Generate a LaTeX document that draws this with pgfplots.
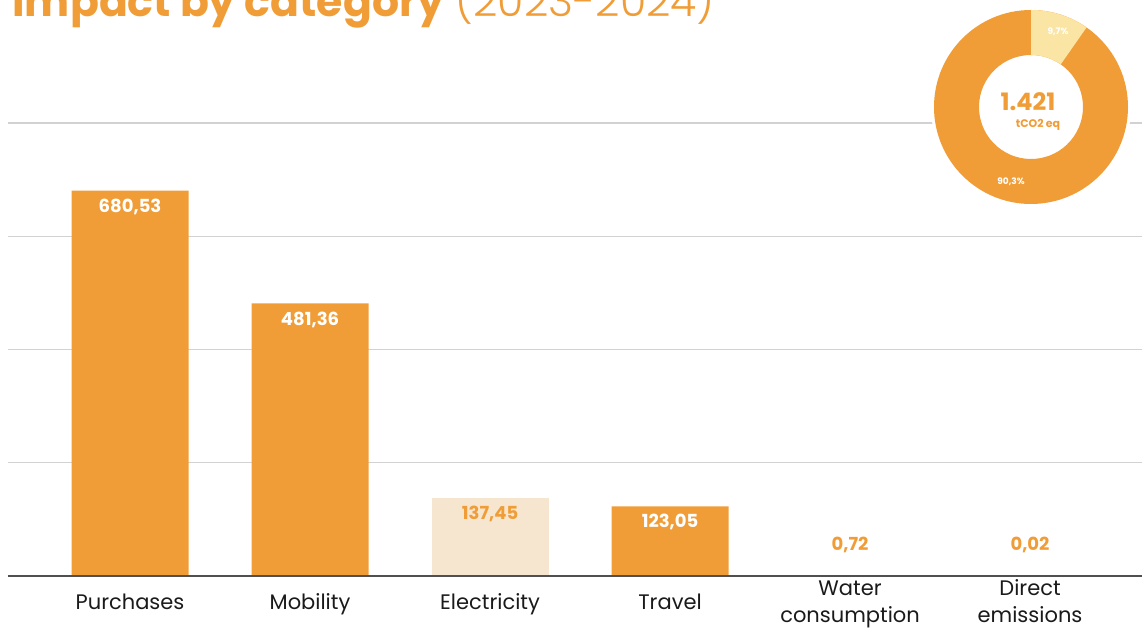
\documentclass[border=0pt]{standalone}
\usepackage{fontspec}
\setmainfont{Poppins}
\IfFontExistsTF{Poppins Light}
  {\newfontfamily\titlelight{Poppins Light}}
  {\newfontfamily\titlelight{Poppins}}
\usepackage{pgfplots}
\pgfplotsset{compat=1.18}

\definecolor{barorange}{HTML}{F09D37}
\definecolor{barpale}{HTML}{F6E6CF}
\definecolor{donutpale}{HTML}{FBE5A5}
\definecolor{gridgray}{HTML}{D2D2D2}
\definecolor{axisgray}{HTML}{505050}
\definecolor{labelblack}{HTML}{1A1A1A}

% donut shares (percent)
\def\shareSmall{9.7}
\def\shareBig{90.3}

\begin{document}
\begin{tikzpicture}
% page = 1142 x 632 px, 1 px = 0.5pt, axis origin at px (8,576)
\useasboundingbox (-4pt,-28pt) rectangle (567pt,288pt);

\begin{axis}[
    scale only axis,
    width=567pt, height=226.5pt,
    xmin=-0.678, xmax=5.622,
    ymin=0, ymax=800,
    axis line style={draw=none},
    ytick={200,400,600,800},
    yticklabels={},
    ymajorgrids,
    grid style={gridgray, line width=0.7pt},
    major tick length=0pt,
    xtick={0,1,2,3,4,5},
    xticklabels={{\strut Purchases},{\strut Mobility},{\strut Electricity},{\strut Travel},
        {\strut Water\\\strut consumption},{\strut Direct\\\strut emissions}},
    xticklabel style={anchor=center, yshift=-14pt, align=center, inner sep=0pt,
        font=\fontsize{10.5}{13.5}\selectfont, text=labelblack},
    ybar, bar width=58.5pt, bar shift=0pt,
    point meta=explicit symbolic,
    nodes near coords,
    clip=false,
]
\addplot[fill=barorange, draw=none,
    nodes near coords style={anchor=center, yshift=-8pt, text=white,
        font=\fontsize{9}{10}\bfseries}]
    coordinates {(0,680.53) [680,53] (1,481.36) [481,36] (3,123.05) [123,05]};
\addplot[fill=barpale, draw=none,
    nodes near coords style={anchor=center, yshift=-8pt, text=barorange,
        font=\fontsize{9}{10}\bfseries}]
    coordinates {(2,137.45) [137,45]};
\addplot[fill=barorange, draw=none,
    nodes near coords style={anchor=center, yshift=15.5pt, text=barorange,
        font=\fontsize{9}{10}\bfseries}]
    coordinates {(4,0.72) [0,72] (5,0.02) [0,02]};
\draw[axisgray, line width=0.8pt] (axis cs:-0.678,0) -- (axis cs:5.622,0);
\end{axis}

% title, partly cut by the top edge as in the source
\node[anchor=base west, inner sep=0pt, text=barorange, font=\fontsize{21.3}{24}\selectfont]
    at (2pt,279.5pt) {\textbf{Impact by category} {\titlelight(2023-2024)}};

% donut inset
\begin{scope}[shift={(511.5pt,234.5pt)}]
\pgfmathsetmacro{\angSplit}{90-360*\shareSmall/100}
\fill[white] (0,0) circle (50pt);
\fill[barorange] (90:48.5pt) arc[start angle=90, end angle=\angSplit-360, radius=48.5pt]
    -- (\angSplit:26pt) arc[start angle=\angSplit-360, end angle=90, radius=26pt] -- cycle;
\fill[donutpale] (90:48.5pt) arc[start angle=90, end angle=\angSplit, radius=48.5pt]
    -- (\angSplit:26pt) arc[start angle=\angSplit, end angle=90, radius=26pt] -- cycle;
\node[text=barorange, font=\fontsize{12}{13}\bfseries] at (-1.5pt,2.5pt) {1.421};
\node[text=barorange, font=\fontsize{5.5}{6}\bfseries] at (3.5pt,-9pt) {tCO2 eq};
\node[text=white, font=\fontsize{4.5}{5}\bfseries] at (13.5pt,37.5pt) {9,7\%};
\node[text=white, font=\fontsize{4.5}{5}\bfseries] at (-10pt,-37.5pt) {90,3\%};
\end{scope}
\end{tikzpicture}
\end{document}
